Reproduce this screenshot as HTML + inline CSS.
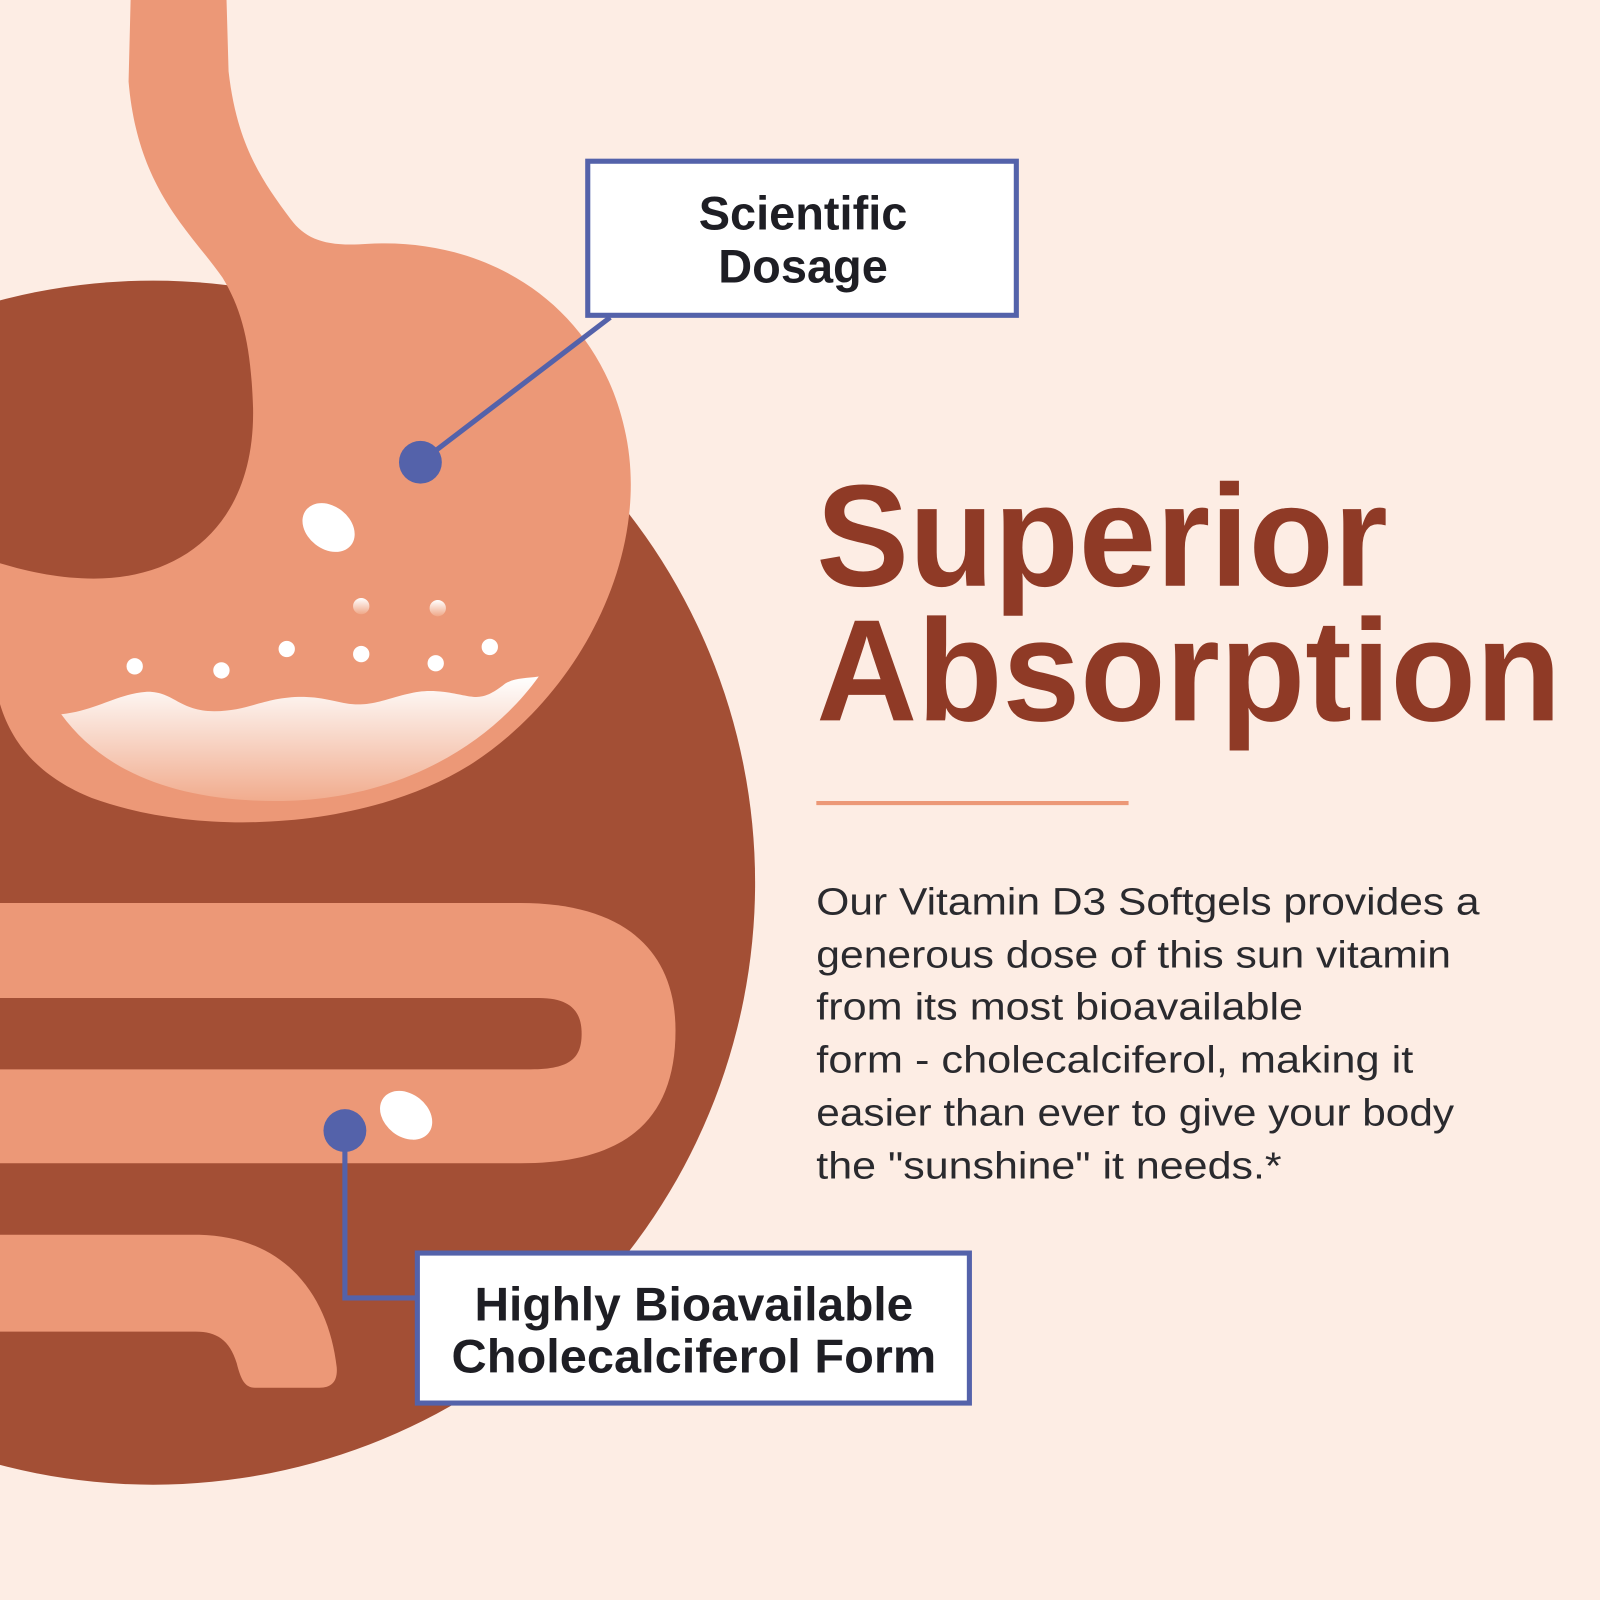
<!DOCTYPE html>
<html><head><meta charset="utf-8"><style>
html,body{margin:0;padding:0;background:#FDEDE4;}
svg{display:block;}
</style></head><body>
<svg width="1600" height="1600" viewBox="0 0 1568 1568" xmlns="http://www.w3.org/2000/svg">
<defs>
<linearGradient id="liq" x1="0" y1="0" x2="0" y2="1">
<stop offset="0" stop-color="#FFFFFF"/><stop offset="1" stop-color="#F1AC8E"/>
</linearGradient>
<linearGradient id="bub" x1="0" y1="0" x2="0" y2="1">
<stop offset="0" stop-color="#FFFFFF"/><stop offset="1" stop-color="#F0A888"/>
</linearGradient>
</defs>
<rect width="1568" height="1568" fill="#FDEDE4"/>
<circle cx="150" cy="865" r="590" fill="#A34F35"/>
<!-- stomach -->
<path d="M128,0 L222,0 L224,70 C232,140 255,175 285,215 C300,235 320,242 360,239 C480,232 585,300 612,420 C640,540 570,680 460,750 C360,812 200,822 90,782 C40,762 12,730 0,690 L0,552 C30,561 60,567 92,567 C185,567 250,508 248,400 C246,340 238,305 218,272 C185,225 135,185 126,80 Z" fill="#EC9877"/>
<path d="M60,700 C95,696 115,680 143,678 C170,677 175,697 210,697 C245,697 260,682 300,683 C330,684 340,695 370,688 C400,680 410,675 435,678 C465,682 470,690 495,670 C505,664 515,665 528,663 C480,730 390,785 270,785 C170,785 100,755 60,700 Z" fill="url(#liq)"/>
<g fill="#fff">
<circle cx="132" cy="653" r="8"/><circle cx="217" cy="657" r="8"/><circle cx="281" cy="636" r="8"/>
<circle cx="354" cy="641" r="8"/><circle cx="427" cy="650" r="8"/><circle cx="480" cy="634" r="8"/>
</g>
<circle cx="354" cy="594" r="8" fill="url(#bub)"/><circle cx="429" cy="596" r="8" fill="url(#bub)"/>
<ellipse cx="322" cy="517" rx="28" ry="21" transform="rotate(38 322 517)" fill="#fff"/>
<!-- intestines -->
<path d="M0,885 L510,885 C610,885 662,930 662,1010 C662,1100 610,1140 510,1140 L0,1140 Z" fill="#EC9877"/>
<path d="M0,978 L528,978 C560,978 570,992 570,1013 C570,1036 560,1048 520,1048 L0,1048 Z" fill="#A34F35"/>
<path d="M0,1210 L195,1210 C280,1212 322,1270 330,1340 C331,1354 325,1360 313,1360 L250,1360 C240,1360 236,1352 232,1336 C225,1313 212,1305 192,1305 L0,1305 Z" fill="#EC9877"/>
<ellipse cx="398" cy="1093" rx="28" ry="21" transform="rotate(38 398 1093)" fill="#fff"/>
<!-- callouts -->
<line x1="598" y1="311" x2="412" y2="453" stroke="#5462AA" stroke-width="5"/>
<circle cx="412" cy="453" r="21" fill="#5462AA"/>
<rect x="576" y="158" width="420" height="151" fill="#fff" stroke="#5462AA" stroke-width="5"/>
<g font-family="Liberation Sans, sans-serif" font-weight="bold" font-size="46" fill="#1E1E24" text-anchor="middle">
<text x="787" y="225">Scientific</text>
<text x="787" y="277">Dosage</text>
</g>
<polyline points="338,1108 338,1272 410,1272" fill="none" stroke="#5462AA" stroke-width="5"/>
<circle cx="338" cy="1108" r="21" fill="#5462AA"/>
<rect x="409" y="1228" width="541" height="147" fill="#fff" stroke="#5462AA" stroke-width="5"/>
<g font-family="Liberation Sans, sans-serif" font-weight="bold" font-size="46" fill="#1E1E24" text-anchor="middle">
<text x="680" y="1294" textLength="430" lengthAdjust="spacingAndGlyphs">Highly Bioavailable</text>
<text x="680" y="1345" textLength="475" lengthAdjust="spacingAndGlyphs">Cholecalciferol Form</text>
</g>
<!-- title -->
<g font-family="Liberation Sans, sans-serif" font-weight="bold" font-size="142" fill="#8F3A26">
<text x="800" y="574" textLength="560" lengthAdjust="spacingAndGlyphs">Superior</text>
<text x="800" y="706" textLength="730" lengthAdjust="spacingAndGlyphs">Absorption</text>
</g>
<line x1="800" y1="787" x2="1106" y2="787" stroke="#EC9877" stroke-width="4"/>
<g font-family="Liberation Sans, sans-serif" font-size="37" fill="#2A2A2E">
<text x="800" y="896" textLength="650" lengthAdjust="spacingAndGlyphs">Our Vitamin D3 Softgels provides a</text>
<text x="800" y="948" textLength="622" lengthAdjust="spacingAndGlyphs">generous dose of this sun vitamin</text>
<text x="800" y="999" textLength="477" lengthAdjust="spacingAndGlyphs">from its most bioavailable</text>
<text x="800" y="1051" textLength="585" lengthAdjust="spacingAndGlyphs">form - cholecalciferol, making it</text>
<text x="800" y="1103" textLength="625" lengthAdjust="spacingAndGlyphs">easier than ever to give your body</text>
<text x="800" y="1155" textLength="456" lengthAdjust="spacingAndGlyphs">the "sunshine" it needs.*</text>
</g>
</svg>
</body></html>
